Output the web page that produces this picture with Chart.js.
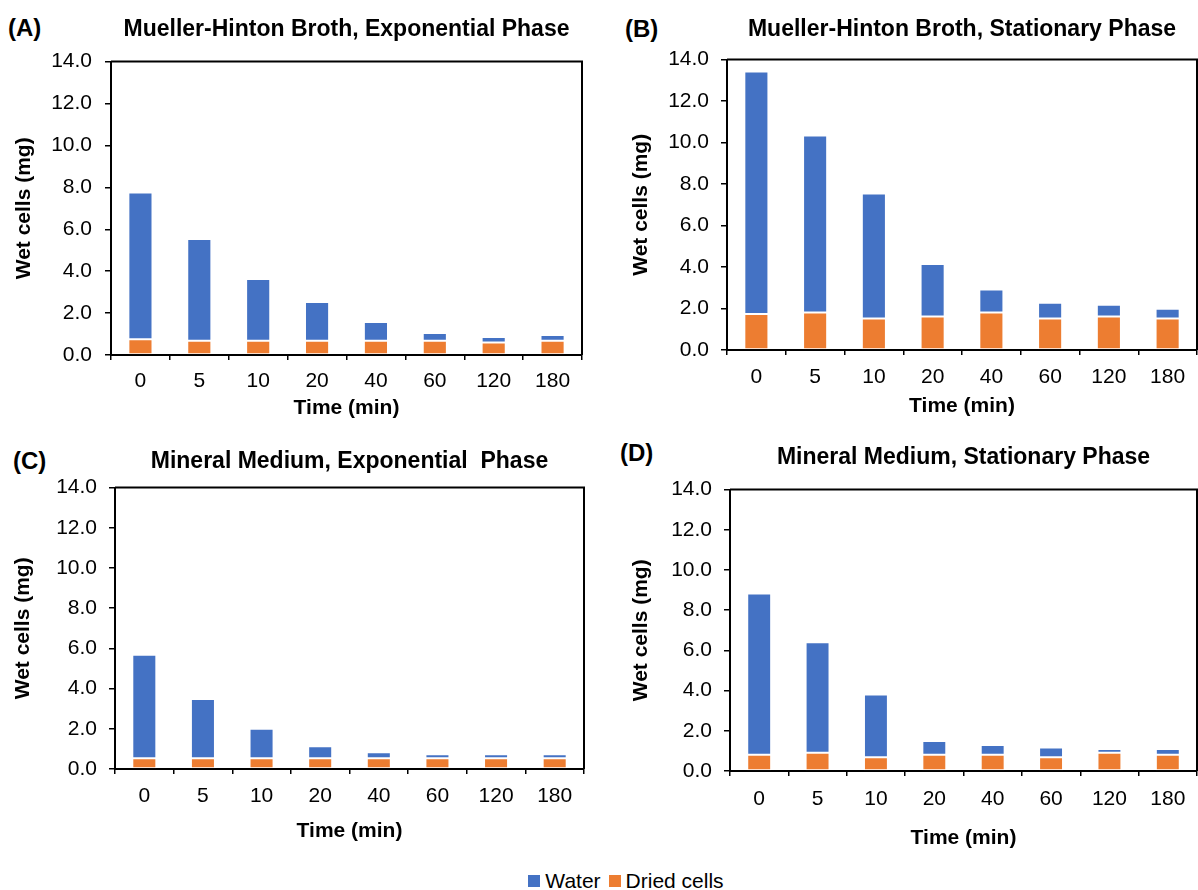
<!DOCTYPE html>
<html>
<head>
<meta charset="utf-8">
<title>Wet cells</title>
<script src="https://cdn.jsdelivr.net/npm/chart.js@4.4.1/dist/chart.umd.min.js"></script>
<style>
html, body { margin: 0; padding: 0; background: #fff; }
body { width: 1198px; height: 890px; position: relative; overflow: hidden; font-family: "Liberation Sans", Arial, sans-serif; }
.panel { position: absolute; }
.tag { position: absolute; font-weight: bold; font-size: 24px; line-height: 24px; color: #000; }
#legend { position: absolute; left: 0; width: 1198px; top: 869px; padding-left: 62px; box-sizing: border-box; text-align: center; font-size: 21px; line-height: 24px; color: #000; white-space: nowrap; }
#legend span.box { display: inline-block; width: 12px; height: 12px; margin-right: 5px; vertical-align: 1px; }
#legend span.item { margin-right: 8px; }
</style>
</head>
<body>

<div class="tag" style="left:8px; top:16px;">(A)</div>
<div class="tag" style="left:625px; top:17px;">(B)</div>
<div class="tag" style="left:13px; top:449px;">(C)</div>
<div class="tag" style="left:620px; top:441px;">(D)</div>

<div class="panel" style="left:0px; top:0px; width:598px; height:430px;"><canvas id="chartA"></canvas></div>
<div class="panel" style="left:600px; top:0px; width:598px; height:430px;"><canvas id="chartB"></canvas></div>
<div class="panel" style="left:0px; top:440px; width:598px; height:410px;"><canvas id="chartC"></canvas></div>
<div class="panel" style="left:600px; top:440px; width:598px; height:411px;"><canvas id="chartD"></canvas></div>

<div id="legend"></div>

<script>
// data (mg)
var times = ["0", "5", "10", "20", "40", "60", "120", "180"];
var yTicks = [0, 2, 4, 6, 8, 10, 12, 14];
var seriesNames = ["Water", "Dried cells"];
var seriesColors = ["#4472C4", "#ED7D31"];

// (A) Mueller-Hinton Broth, exponential phase
var waterA = [7.0, 4.85, 2.95, 1.85, 0.9, 0.37, 0.26, 0.28];
var driedA = [0.75, 0.68, 0.68, 0.68, 0.68, 0.68, 0.6, 0.68];
// (B) Mueller-Hinton Broth, stationary phase
var waterB = [11.7, 8.53, 6.02, 2.52, 1.11, 0.76, 0.56, 0.47];
var driedB = [1.73, 1.81, 1.52, 1.62, 1.81, 1.52, 1.62, 1.52];
// (C) Mineral medium, exponential phase
var waterC = [5.16, 2.95, 1.47, 0.6, 0.3, 0.2, 0.2, 0.2];
var driedC = [0.53, 0.53, 0.53, 0.53, 0.53, 0.53, 0.53, 0.53];
// (D) Mineral medium, stationary phase
var waterD = [8.02, 5.5, 3.11, 0.68, 0.48, 0.48, 0.18, 0.28];
var driedD = [0.81, 0.91, 0.69, 0.81, 0.81, 0.69, 0.91, 0.81];

var fontFamily = "'Liberation Sans', Arial, sans-serif";

// top and right border of the plot box
var boxPlugin = {
    id: "boxPlugin",
    afterDraw: function (chart) {
        var a = chart.chartArea;
        var ctx = chart.ctx;
        ctx.save();
        ctx.strokeStyle = "#000";
        ctx.lineWidth = 2;
        ctx.beginPath();
        ctx.moveTo(a.left, a.top);
        ctx.lineTo(a.right, a.top);
        ctx.lineTo(a.right, a.bottom);
        ctx.stroke();
        ctx.restore();
    }
};

function drawPanel(id, title, water, dried, p) {
    var ctx = document.getElementById(id);
    new Chart(ctx, {
        type: "bar",
        data: {
            labels: times,
            datasets: [
                {
                    label: seriesNames[1],
                    data: dried,
                    backgroundColor: seriesColors[1],
                    borderColor: "rgba(255,255,255,0.3)",
                    borderWidth: 1,
                    borderSkipped: false
                },
                {
                    label: seriesNames[0],
                    data: water,
                    backgroundColor: seriesColors[0],
                    borderColor: "rgba(255,255,255,0.3)",
                    borderWidth: 1,
                    borderSkipped: false
                }
            ]
        },
        options: {
            responsive: true,
            maintainAspectRatio: false,
            animation: false,
            events: [],
            layout: { padding: { left: 0, right: p.padRight, top: 0, bottom: 0 } },
            datasets: { bar: { categoryPercentage: 1, barPercentage: 0.41 } },
            plugins: {
                legend: { display: false },
                tooltip: { enabled: false },
                title: {
                    display: true,
                    text: title,
                    fullSize: false,
                    color: "#000",
                    font: { family: fontFamily, size: 23, weight: "bold" },
                    padding: { top: p.titleTop, bottom: p.titleBottom }
                }
            },
            scales: {
                x: {
                    stacked: true,
                    afterFit: function (s) { s.height = p.xHeight; },
                    grid: { display: true, drawOnChartArea: false, drawTicks: true, tickLength: 5, color: "#000", lineWidth: 1.5, offset: true },
                    border: { display: true, color: "#000", width: 2 },
                    ticks: { color: "#000", padding: p.xPad, font: { family: fontFamily, size: 21 }, maxRotation: 0 },
                    title: {
                        display: true,
                        text: "Time (min)",
                        color: "#000",
                        font: { family: fontFamily, size: 21, weight: "bold" },
                        padding: { top: 0, bottom: p.xTitlePad }
                    }
                },
                y: {
                    stacked: true,
                    min: 0,
                    max: 14,
                    afterFit: function (s) { s.width = p.yWidth; },
                    afterBuildTicks: function (s) {
                        s.ticks = yTicks.map(function (v) { return { value: v }; });
                    },
                    grid: { display: true, drawOnChartArea: false, drawTicks: true, tickLength: 6, color: "#000", lineWidth: 1.5 },
                    border: { display: true, color: "#000", width: 2 },
                    ticks: {
                        color: "#000",
                        padding: p.yPad,
                        font: { family: fontFamily, size: 21 },
                        callback: function (v) { return Number(v).toFixed(1); }
                    },
                    title: {
                        display: true,
                        text: "Wet cells (mg)",
                        color: "#000",
                        font: { family: fontFamily, size: 21, weight: "bold" },
                        padding: { top: p.yTitlePad, bottom: 0 }
                    }
                }
            }
        },
        plugins: [boxPlugin]
    });
}

drawPanel("chartA", "Mueller-Hinton Broth, Exponential Phase", waterA, driedA,
    { padRight: 16, titleTop: 16, titleBottom: 18, xHeight: 75, xPad: 9, xTitlePad: 9, yWidth: 111, yPad: 13, yTitlePad: 12 });
drawPanel("chartB", "Mueller-Hinton Broth, Stationary Phase", waterB, driedB,
    { padRight: 1, titleTop: 16, titleBottom: 16, xHeight: 80, xPad: 10, xTitlePad: 11, yWidth: 127, yPad: 12, yTitlePad: 29 });
drawPanel("chartC", "Mineral Medium, Exponential  Phase", waterC, driedC,
    { padRight: 14, titleTop: 8, titleBottom: 12, xHeight: 81, xPad: 10, xTitlePad: 6, yWidth: 115, yPad: 12, yTitlePad: 11 });
drawPanel("chartD", "Mineral Medium, Stationary Phase", waterD, driedD,
    { padRight: 1, titleTop: 4, titleBottom: 18, xHeight: 80, xPad: 11, xTitlePad: 0, yWidth: 130, yPad: 12, yTitlePad: 29 });

// shared legend under the four panels
var legendHtml = "";
for (var i = 0; i < seriesNames.length; i++) {
    legendHtml += '<span class="item"><span class="box" style="background:' + seriesColors[i] + '"></span>' + seriesNames[i] + '</span>';
}
document.getElementById("legend").innerHTML = legendHtml;
</script>
</body>
</html>
